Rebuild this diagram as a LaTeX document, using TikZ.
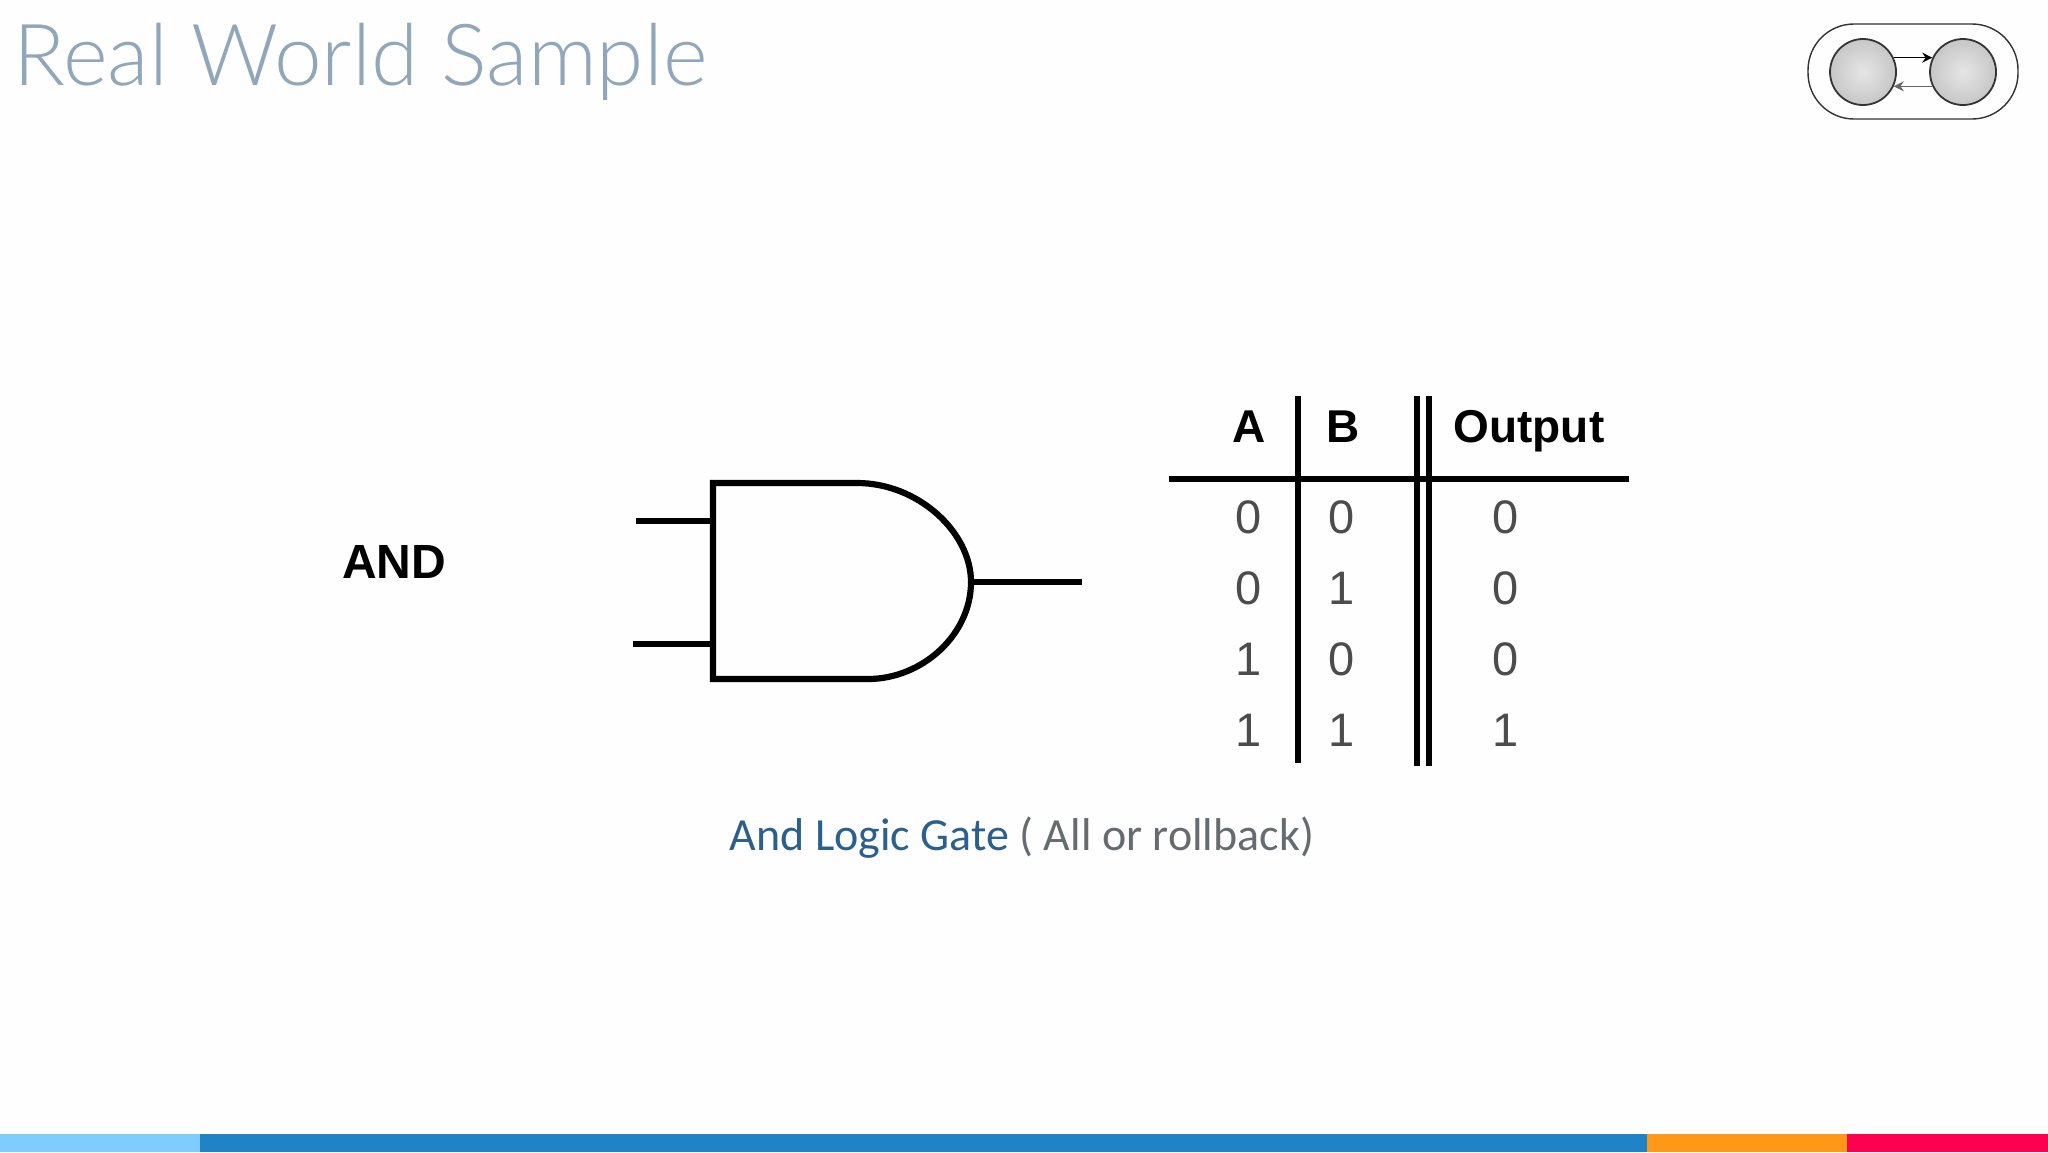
\documentclass[tikz,border=0pt]{standalone}
\usepackage{fontspec}
\setmainfont{Liberation Sans}
\newfontfamily\latofont{Carlito}
\newfontfamily\titlefont{Lato Light}
\usetikzlibrary{arrows.meta}
\definecolor{titlegray}{HTML}{8FA6BB}
\definecolor{capblue}{HTML}{2B5F8C}
\definecolor{capgray}{HTML}{666B70}
\begin{document}
\begin{tikzpicture}[x=0.5pt, y=-0.5pt, thick,
  wire/.style = {line width=3.1pt, line cap=butt},
  rule/.style = {line width=3pt},
  head/.style = {font=\fontsize{23}{23}\selectfont\bfseries, inner sep=0pt},
  bit/.style = {font=\fontsize{23.5}{23.5}\selectfont, text=black!70, inner sep=0pt},
  ball/.style = {draw=black!80, circle, line width=0.9pt, minimum size=33pt, inner sep=0pt, inner color=black!10, outer color=black!22},
  link/.style = {line width=0.8pt, -{Stealth[length=5pt, width=5pt]}}]
\useasboundingbox (0,0) rectangle (2048,1152);
\fill[black!0.5] (0,0) rectangle (2048,1134);

% title and caption
\node[anchor=base west, inner sep=0pt, text=titlegray, font=\titlefont\fontsize{42.8}{42.8}\selectfont] (title) at (13,85) {Real World Sample};
\node[anchor=base west, inner sep=0pt, font=\latofont\fontsize{23}{23}\selectfont] (caption) at (729,850) {\textcolor{capblue}{And Logic Gate} \textcolor{capgray}{( All or rollback)}};

% badge
\node[draw=black!80, line width=0.7pt, rounded corners=23pt, minimum width=105pt, minimum height=47.5pt, inner sep=0pt] (badge) at (1913,71.5) {};
\node[ball] (left) at (1863,72) {};
\node[ball] (right) at (1963,72) {};
\draw[link] (left.25) -- (right.155);
\draw[link, draw=black!60] (right.205) -- (left.-25);

% gate
\node[head, font=\fontsize{24}{24}\selectfont\bfseries] (name) at (394,562) {AND};
\coordinate (nw) at (713,483);
\coordinate (sw) at (713,679);
\coordinate (tip) at (971,582);
\coordinate (in1) at (636,521);
\coordinate (in2) at (633,644);
\coordinate (in1end) at (713,521);
\coordinate (in2end) at (713,644);
\coordinate (out) at (1082,582);
\draw[wire, line join=miter] (857,483) -- (nw) -- (sw) -- (868,679)
  .. controls (922,679) and (971,635) .. (tip)
  .. controls (971,532) and (918,483) .. (857,483) -- cycle;
\draw[wire] (in1) -- (in1end);
\draw[wire] (in2) -- (in2end);
\draw[wire] (tip) -- (out);

% table
\coordinate (ruleL) at (1169,479);
\coordinate (ruleR) at (1629,479);
\coordinate (ab1) at (1298,396);
\coordinate (ab2) at (1298,763);
\coordinate (bo1) at (1417,396);
\coordinate (bo2) at (1417,766);
\coordinate (bp1) at (1429,396);
\coordinate (bp2) at (1429,766);
\draw[rule] (ruleL) -- (ruleR);
\draw[rule] (ab1) -- (ab2);
\draw[rule] (bo1) -- (bo2);
\draw[rule] (bp1) -- (bp2);
\node[head] (hA) at (1249,427) {A};
\node[head] (hB) at (1343,427) {B};
\node[head] (hO) at (1529,431) {Output};
\node[bit] (a1) at (1249,517) {0};
\node[bit] (b1) at (1342,517) {0};
\node[bit] (o1) at (1506,517) {0};
\node[bit] (a2) at (1249,588) {0};
\node[bit] (b2) at (1342,588) {1};
\node[bit] (o2) at (1506,588) {0};
\node[bit] (a3) at (1249,659) {1};
\node[bit] (b3) at (1342,659) {0};
\node[bit] (o3) at (1506,659) {0};
\node[bit] (a4) at (1249,730) {1};
\node[bit] (b4) at (1342,730) {1};
\node[bit] (o4) at (1506,730) {1};

% footer
\fill[fill={rgb,255:red,127;green,204;blue,255}] (0,1134) rectangle (200,1152);
\fill[fill={rgb,255:red,33;green,131;blue,199}] (200,1134) rectangle (1647,1152);
\fill[fill={rgb,255:red,255;green,152;blue,22}] (1647,1134) rectangle (1847,1152);
\fill[fill={rgb,255:red,255;green,0;blue,80}] (1847,1134) rectangle (2048,1152);
\end{tikzpicture}
\end{document}
